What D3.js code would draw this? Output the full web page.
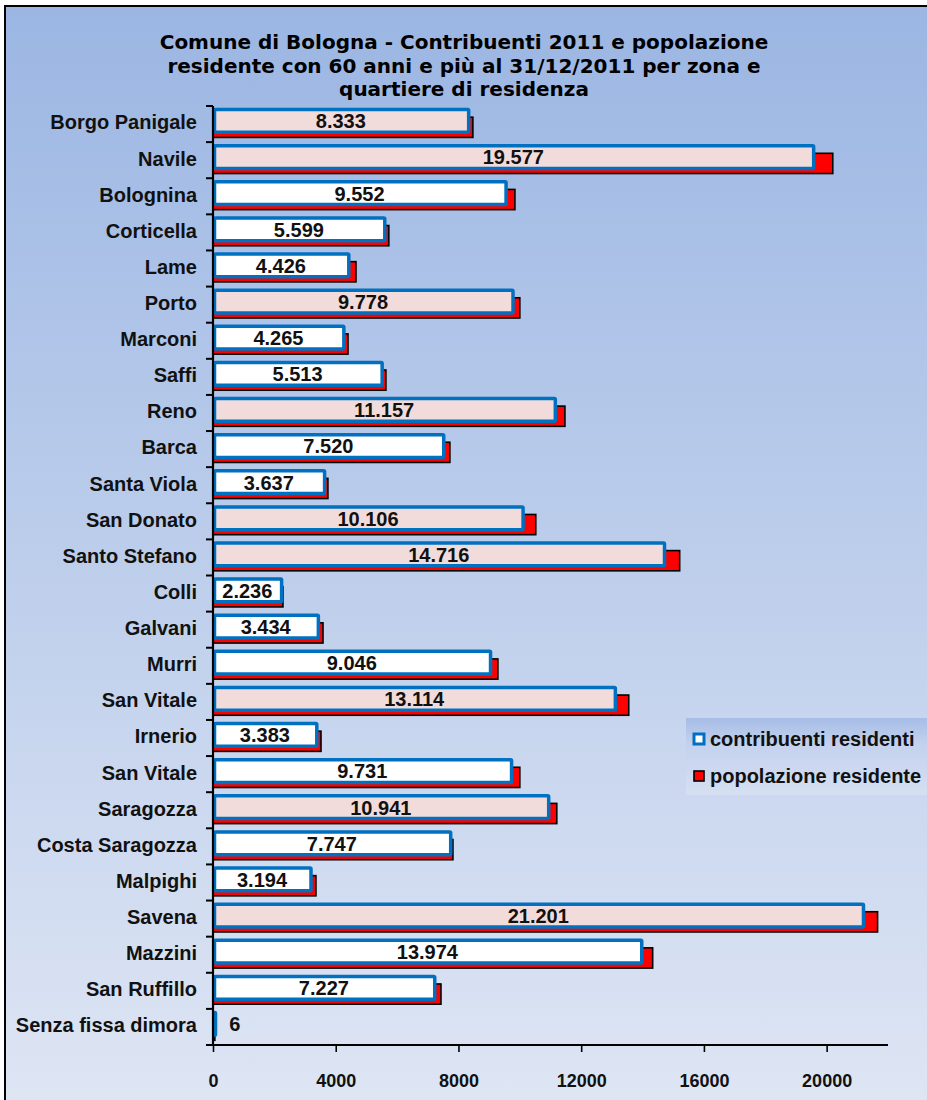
<!DOCTYPE html>
<html lang="it">
<head>
  <meta charset="UTF-8">
  <title>Comune di Bologna - Contribuenti 2011</title>
  <script src="https://d3js.org/d3.v7.min.js"></script>
  <style type="text/css">
    body { margin: 0; background: #fff; overflow: hidden; }
    svg { display: block; }
    .cat { font-family: "Liberation Sans", Arial, sans-serif; font-weight: bold; font-size: 20px; }
    .val { font-family: "Liberation Sans", Arial, sans-serif; font-weight: bold; font-size: 20px; }
    .tick-x { font-family: "Liberation Sans", Arial, sans-serif; font-weight: bold; font-size: 18px; }
    .title { font-family: "DejaVu Sans", Verdana, sans-serif; font-weight: bold; font-size: 20px; }
    .legend { font-family: "Liberation Sans", Arial, sans-serif; font-weight: bold; font-size: 20px; }
  </style>
</head>
<body>
  <svg width="927" height="1100"></svg>
  <script type="text/javascript">
    // data
    const categories = ["Borgo Panigale", "Navile", "Bolognina", "Corticella", "Lame", "Porto",
      "Marconi", "Saffi", "Reno", "Barca", "Santa Viola", "San Donato", "Santo Stefano", "Colli",
      "Galvani", "Murri", "San Vitale", "Irnerio", "San Vitale", "Saragozza", "Costa Saragozza",
      "Malpighi", "Savena", "Mazzini", "San Ruffillo", "Senza fissa dimora"];
    const livello = ["quartiere", "quartiere", "zona", "zona", "zona", "quartiere",
      "zona", "zona", "quartiere", "zona", "zona", "quartiere", "quartiere", "zona",
      "zona", "zona", "quartiere", "zona", "zona", "quartiere", "zona",
      "zona", "quartiere", "zona", "zona", "zona"];
    const contribuenti = [8333, 19577, 9552, 5599, 4426, 9778, 4265, 5513, 11157, 7520, 3637, 10106,
      14716, 2236, 3434, 9046, 13114, 3383, 9731, 10941, 7747, 3194, 21201, 13974, 7227, 6];
    const popolazione = [8470, 20200, 9840, 5730, 4660, 10000, 4400, 5635, 11470, 7720, 3745, 10520,
      15210, 2280, 3585, 9285, 13550, 3520, 10000, 11205, 7820, 3355, 21660, 14330, 7430, 60];
    const xTicks = [0, 4000, 8000, 12000, 16000, 20000];
    const seriesNames = ["contribuenti residenti", "popolazione residente"];
    const titleLines = ["Comune di Bologna - Contribuenti 2011 e popolazione",
      "residente con 60 anni e più al 31/12/2011 per zona e",
      "quartiere di residenza"];

    const it = d3.formatLocale({ decimal: ",", thousands: ".", grouping: [3], currency: ["€", ""] });
    const fmt = it.format(",d");

    const svg = d3.select("svg");
    const defs = svg.append("defs");

    const bg = defs.append("linearGradient").attr("id", "bg")
      .attr("x1", 0).attr("y1", 0).attr("x2", 0).attr("y2", 1);
    bg.append("stop").attr("offset", "0%").attr("stop-color", "#9bb6e3");
    bg.append("stop").attr("offset", "100%").attr("stop-color", "#dfe6f4");

    const lg = defs.append("linearGradient").attr("id", "lg")
      .attr("x1", 0).attr("y1", 0).attr("x2", 0).attr("y2", 1);
    lg.append("stop").attr("offset", "0%").attr("stop-color", "#a7bde7");
    lg.append("stop").attr("offset", "35%").attr("stop-color", "#c4d2ee");
    lg.append("stop").attr("offset", "100%").attr("stop-color", "#d6dff2");

    // frame
    svg.append("rect")
      .attr("x", 5).attr("y", 6).attr("width", 940).attr("height", 1110)
      .attr("fill", "url(#bg)").attr("stroke", "#000").attr("stroke-width", 2);

    // title
    svg.append("text").attr("class", "title")
      .attr("text-anchor", "middle")
      .selectAll("tspan").data(titleLines).enter()
      .append("tspan")
      .attr("x", 464)
      .attr("y", (d, i) => 49 + i * 23.5)
      .text(d => d);

    const margin = { top: 106, left: 213, bottom: 1045 };
    const x = d3.scaleLinear().domain([0, 22000]).range([margin.left, margin.left + 675]);
    const y = d3.scaleBand().domain(d3.range(categories.length))
      .range([margin.top, margin.bottom]).padding(0);
    const bw = y.bandwidth();

    const g = svg.append("g");

    // red bars (popolazione residente)
    g.append("g").selectAll("rect")
      .data(popolazione).enter()
      .append("rect")
      .attr("x", x(0))
      .attr("y", (d, i) => y(i) + bw * 0.31)
      .attr("width", d => x(d) - x(0))
      .attr("height", bw * 0.56)
      .attr("fill", "#ff0000")
      .attr("stroke", "#000")
      .attr("stroke-width", 1.6);

    // blue bars (contribuenti residenti)
    g.append("g").selectAll("rect")
      .data(contribuenti).enter()
      .append("rect")
      .attr("x", x(0) + 1.5)
      .attr("y", (d, i) => y(i) + bw * 0.1)
      .attr("width", d => Math.max(x(d) - x(0) - 1.5, 1))
      .attr("height", bw * 0.63)
      .attr("fill", (d, i) => livello[i] === "quartiere" ? "#f2dcdb" : "#ffffff")
      .attr("stroke", "#0070c0")
      .attr("stroke-width", 3.5)
      .attr("rx", 1);

    // value labels
    g.append("g").selectAll("text")
      .data(contribuenti).enter()
      .append("text")
      .attr("class", "val")
      .attr("x", d => (x(d) - x(0) > 40 ? (x(0) + x(d)) / 2 : x(d) + 16))
      .attr("y", (d, i) => y(i) + bw * 0.42)
      .attr("dy", "0.36em")
      .attr("text-anchor", d => (x(d) - x(0) > 40 ? "middle" : "start"))
      .attr("fill", "#111")
      .text(d => fmt(d));

    // y axis
    const ya = svg.append("g");
    ya.append("line")
      .attr("x1", x(0)).attr("x2", x(0))
      .attr("y1", margin.top).attr("y2", margin.bottom)
      .attr("stroke", "#000").attr("stroke-width", 2.2);
    ya.selectAll("line.t")
      .data(d3.range(categories.length)).enter()
      .append("line").attr("class", "t")
      .attr("x1", x(0) - 7).attr("x2", x(0))
      .attr("y1", i => y(i)).attr("y2", i => y(i))
      .attr("stroke", "#000").attr("stroke-width", 2);
    ya.selectAll("text")
      .data(categories).enter()
      .append("text")
      .attr("class", "cat")
      .attr("x", 197)
      .attr("y", (d, i) => y(i) + bw * 0.45)
      .attr("dy", "0.36em")
      .attr("text-anchor", "end")
      .attr("fill", "#111")
      .text(d => d);

    // x axis
    const xa = svg.append("g")
      .attr("transform", "translate(0," + margin.bottom + ")")
      .call(d3.axisBottom(x).tickValues(xTicks).tickSize(7).tickFormat(d3.format("d")));
    xa.select(".domain").remove();
    xa.append("line")
      .attr("x1", x(0) - 7).attr("x2", x(22000))
      .attr("y1", 0).attr("y2", 0)
      .attr("stroke", "#000").attr("stroke-width", 2.2);
    xa.selectAll(".tick line").attr("stroke", "#000").attr("stroke-width", 1.6);
    xa.selectAll(".tick text")
      .attr("class", "tick-x")
      .attr("y", 29)
      .attr("fill", "#111");
    xa.attr("font-size", null).attr("font-family", null);

    // legend
    const leg = svg.append("g").attr("transform", "translate(686,718)");
    leg.append("rect").attr("width", 245).attr("height", 77).attr("fill", "url(#lg)");
    leg.append("rect").attr("x", 8).attr("y", 16).attr("width", 10).attr("height", 10)
      .attr("fill", "#fff").attr("stroke", "#0070c0").attr("stroke-width", 3);
    leg.append("rect").attr("x", 8).attr("y", 53).attr("width", 10).attr("height", 10)
      .attr("fill", "#ff0000").attr("stroke", "#000").attr("stroke-width", 1.6);
    leg.selectAll("text").data(seriesNames).enter()
      .append("text").attr("class", "legend")
      .attr("x", 24)
      .attr("y", (d, i) => 21 + i * 37)
      .attr("dy", "0.36em")
      .attr("fill", "#111")
      .text(d => d);
  </script>
</body>
</html>
